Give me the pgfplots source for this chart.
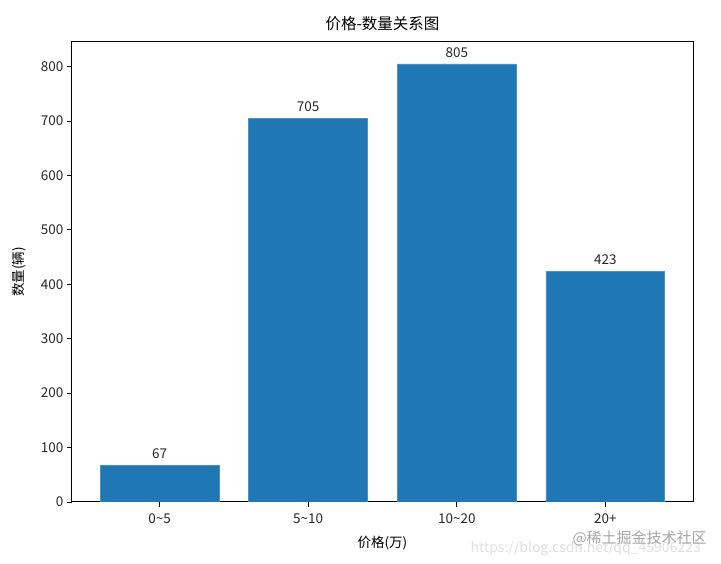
\documentclass[border=0pt]{standalone}
\usepackage{fontspec}
\setmainfont{Noto Sans CJK SC}
\usepackage{pgfplots}
\pgfplotsset{compat=1.18}
\definecolor{barblue}{HTML}{1F77B4}
\begin{document}
\begin{tikzpicture}
\useasboundingbox (-72pt,-62pt) rectangle (649pt,502pt);
\begin{axis}[
  at={(0,0)}, anchor=south west,
  scale only axis,
  width=621pt, height=460pt,
  ybar, bar width=0.8,
  xmin=-0.59, xmax=3.59,
  ymin=0, ymax=845.25,
  xtick={0,1,2,3},
  xticklabels={0\textasciitilde5,5\textasciitilde10,10\textasciitilde20,20+},
  ytick={0,100,...,800},
  tick align=outside, major tick length=5pt,
  tick style={black, line width=0.9pt},
  xtick pos=bottom, ytick pos=left,
  axis line style={black, line width=1pt},
  /pgf/number format/assume math mode=true,
  ticklabel style={font=\fontsize{13.5}{15}\selectfont, text=black!85},
  xticklabel style={yshift=-3pt},
  title={价格-数量关系图},
  title style={font=\fontsize{15.5}{18}\selectfont, yshift=2pt},
  xlabel={价格(万)},
  ylabel={数量(辆)},
  label style={font=\fontsize{13.5}{15}\selectfont},
  xlabel style={yshift=-6pt},
  ylabel style={yshift=8pt},
  nodes near coords,
  nodes near coords style={font=\fontsize{13.5}{15}\selectfont, text=black!85},
  every node near coord/.append style={yshift=3pt},
]
\addplot[fill=barblue, draw=barblue!80!white, line width=0.6pt] coordinates {(0,67) (1,705) (2,805) (3,423)};
\end{axis}
\node[text=black!13, font=\fontsize{14}{16}\selectfont, anchor=west] at (395pt,-47pt) {https://blog.csdn.net/qq\_45906223};
\node[text=black!35, font=\fontsize{15}{17}\selectfont, anchor=west] at (497pt,-36pt) {@稀土掘金技术社区};
\end{tikzpicture}
\end{document}
